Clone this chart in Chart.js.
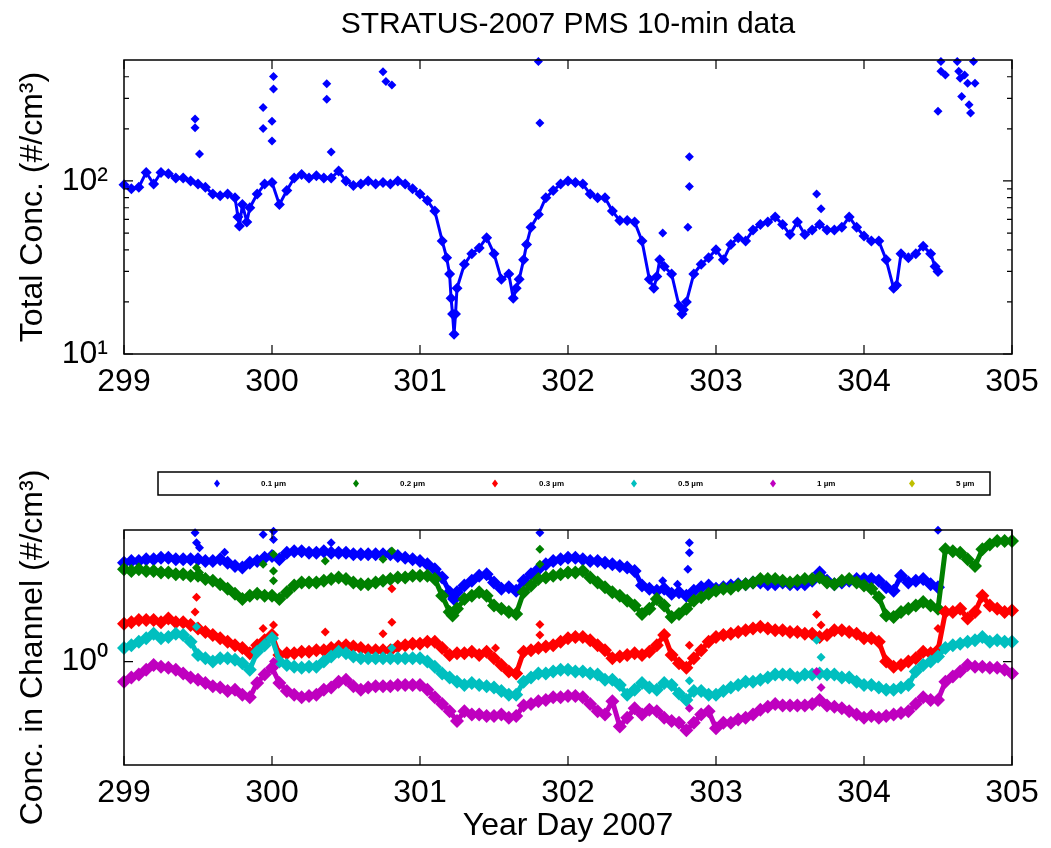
<!DOCTYPE html>
<html lang="en">
<head>
    <meta charset="UTF-8">
    <title>STRATUS-2007 PMS 10-min data</title>
    <style>
        body { margin: 0; background: #fff; }
        #top, #bottom { position: absolute; left: 0; }
        #top { top: 0; }
        #bottom { top: 420px; }
    </style>
</head>
<body>

    <canvas id="top" width="1051" height="420"></canvas>
    <canvas id="bottom" width="1051" height="428"></canvas>
    <script src="https://cdn.jsdelivr.net/npm/chart.js@4.4.1/dist/chart.umd.min.js"></script>
    <script>

        // ---- data: [year day, concentration] ----
        const dayTicks = [299, 300, 301, 302, 303, 304, 305];

        const totalTickValues = [10, 100];
        const totalTickLabels = ['10¹', '10²'];
        const totalMinorTicks = [20, 30, 40, 50, 60, 70, 80, 90, 200, 300, 400];

        const chanTickValues = [1];
        const chanTickLabels = ['10⁰'];

        const totalConc = [
            [299.00,95],[299.05,90],[299.10,92],[299.15,112],[299.20,96],[299.25,112],[299.30,110],[299.35,104],
            [299.40,104],[299.45,100],[299.50,96],[299.55,92],[299.60,84],[299.65,82],[299.70,84],[299.75,80],
            [299.77,62],[299.78,55],[299.80,73],[299.83,58],[299.85,70],[299.90,84],[299.95,96],[300.00,98],
            [300.05,73],[300.10,88],[300.15,104],[300.20,109],[300.25,104],[300.30,107],[300.35,104],[300.40,104],
            [300.45,114],[300.50,100],[300.55,94],[300.60,96],[300.65,100],[300.70,96],[300.75,98],[300.80,96],
            [300.85,100],[300.90,96],[300.95,90],[301.00,84],[301.05,77],[301.10,67],[301.15,45],[301.18,36],
            [301.20,29],[301.21,21],[301.22,17],[301.23,13],[301.24,17],[301.25,24],[301.30,33],[301.35,38],
            [301.40,41],[301.45,47],[301.50,38],[301.55,27],[301.60,29],[301.63,21],[301.65,24],[301.67,27],
            [301.70,35],[301.72,43],[301.75,54],[301.80,64],[301.85,80],[301.90,88],[301.95,96],[302.00,100],
            [302.05,98],[302.10,96],[302.15,84],[302.20,80],[302.25,80],[302.30,67],[302.35,59],[302.40,59],
            [302.45,58],[302.50,45],[302.55,27],[302.58,24],[302.60,28],[302.62,35],[302.65,32],[302.70,29],
            [302.75,19],[302.77,17],[302.78,18],[302.80,20],[302.85,29],[302.90,33],[302.95,36],[303.00,40],
            [303.05,35],[303.10,43],[303.15,47],[303.20,45],[303.25,52],[303.30,56],[303.35,58],[303.40,62],
            [303.45,56],[303.50,49],[303.55,58],[303.60,49],[303.65,52],[303.70,56],[303.75,52],[303.80,52],
            [303.85,54],[303.90,62],[303.95,54],[304.00,48],[304.05,45],[304.10,45],[304.15,35],[304.20,24],
            [304.22,25],[304.25,38],[304.30,36],[304.35,38],[304.40,42],[304.45,38],[304.48,32],[304.50,30]
        ];

        const totalSpikes = [
            [299.48,228],[299.48,203],[299.51,143],[299.94,266],[299.94,201],[300.01,401],[300.01,340],
            [300.00,221],[300.00,170],[300.37,364],[300.37,297],[300.40,147],[300.75,428],[300.77,376],
            [300.81,359],[301.80,490],[301.81,216],[302.82,138],[302.82,93],[302.81,54],[302.64,50],
            [303.68,84],[303.71,69],[304.50,253],[304.52,490],[304.52,430],[304.55,410],[304.63,490],
            [304.64,430],[304.65,392],[304.66,308],[304.68,410],[304.70,367],[304.71,276],[304.72,247],
            [304.74,490],[304.75,367]
        ];

        const chan01 = [
            [299.00,3.16],[299.05,3.22],[299.10,3.22],[299.15,3.29],[299.20,3.29],[299.25,3.35],[299.30,3.35],
            [299.35,3.29],[299.40,3.29],[299.45,3.29],[299.50,3.29],[299.55,3.22],[299.60,3.22],[299.65,3.29],
            [299.70,3.16],[299.75,3.04],[299.80,2.99],[299.85,3.16],[299.90,3.22],[299.95,3.35],[300.00,3.41],
            [300.05,3.29],[300.10,3.55],[300.15,3.61],[300.20,3.61],[300.25,3.55],[300.30,3.55],[300.35,3.61],
            [300.40,3.55],[300.45,3.55],[300.50,3.55],[300.55,3.48],[300.60,3.48],[300.65,3.48],[300.70,3.48],
            [300.75,3.48],[300.80,3.48],[300.85,3.41],[300.90,3.35],[300.95,3.29],[301.00,3.22],[301.05,3.10],
            [301.10,2.93],[301.15,2.66],[301.20,2.24],[301.23,2.07],[301.25,2.24],[301.30,2.42],[301.35,2.56],
            [301.40,2.71],[301.45,2.76],[301.50,2.51],[301.55,2.33],[301.60,2.37],[301.65,2.28],[301.70,2.56],
            [301.75,2.76],[301.80,2.93],[301.85,3.10],[301.90,3.22],[301.95,3.29],[302.00,3.35],[302.05,3.35],
            [302.10,3.29],[302.15,3.22],[302.20,3.22],[302.25,3.16],[302.30,3.10],[302.35,3.04],[302.40,2.99],
            [302.45,2.87],[302.50,2.42],[302.55,2.33],[302.60,2.28],[302.65,2.33],[302.70,2.20],[302.75,2.24],
            [302.80,2.15],[302.85,2.28],[302.90,2.37],[302.95,2.42],[303.00,2.33],[303.05,2.37],[303.10,2.42],
            [303.15,2.46],[303.20,2.46],[303.25,2.51],[303.30,2.51],[303.35,2.46],[303.40,2.46],[303.45,2.51],
            [303.50,2.46],[303.55,2.46],[303.60,2.46],[303.65,2.56],[303.70,2.82],[303.75,2.56],[303.80,2.46],
            [303.85,2.51],[303.90,2.56],[303.95,2.61],[304.00,2.61],[304.05,2.61],[304.10,2.56],[304.15,2.37],
            [304.20,2.28],[304.25,2.71],[304.30,2.51],[304.35,2.56],[304.40,2.61],[304.45,2.46],[304.50,2.37]
        ];
        const chan01Spikes = [
            [299.48,4.47],[299.49,3.98],[299.51,3.76],[299.68,3.57],[299.94,4.39],[300.01,4.55],[300.01,4.14],
            [300.40,3.98],[301.81,4.47],[302.82,3.98],[302.82,3.55],[302.81,2.93],[302.64,2.56],[302.74,2.46],
            [304.50,4.6]
        ];

        const chan02 = [
            [299.00,2.93],[299.05,2.87],[299.10,2.93],[299.15,2.87],[299.20,2.87],[299.25,2.82],[299.30,2.82],
            [299.35,2.76],[299.40,2.76],[299.45,2.71],[299.50,2.71],[299.55,2.61],[299.60,2.56],[299.65,2.46],
            [299.70,2.33],[299.75,2.20],[299.80,2.07],[299.85,2.15],[299.90,2.20],[299.95,2.15],[300.00,2.15],
            [300.05,2.07],[300.10,2.24],[300.15,2.42],[300.20,2.51],[300.25,2.51],[300.30,2.51],[300.35,2.56],
            [300.40,2.61],[300.45,2.66],[300.50,2.61],[300.55,2.51],[300.60,2.46],[300.65,2.46],[300.70,2.51],
            [300.75,2.56],[300.80,2.61],[300.85,2.66],[300.90,2.66],[300.95,2.71],[301.00,2.71],[301.05,2.71],
            [301.10,2.61],[301.15,2.15],[301.20,1.78],[301.22,1.71],[301.25,1.85],[301.30,2.07],[301.35,2.15],
            [301.40,2.24],[301.45,2.15],[301.50,1.92],[301.55,1.85],[301.60,1.78],[301.65,1.74],[301.70,2.24],
            [301.75,2.42],[301.80,2.61],[301.85,2.66],[301.90,2.71],[301.95,2.76],[302.00,2.82],[302.05,2.82],
            [302.10,2.87],[302.15,2.66],[302.20,2.51],[302.25,2.37],[302.30,2.24],[302.35,2.15],[302.40,2.03],
            [302.45,1.92],[302.50,1.74],[302.55,1.85],[302.60,2.07],[302.65,1.92],[302.70,1.68],[302.75,1.74],
            [302.80,1.85],[302.85,2.03],[302.90,2.11],[302.95,2.20],[303.00,2.28],[303.05,2.33],[303.10,2.33],
            [303.15,2.42],[303.20,2.46],[303.25,2.51],[303.30,2.61],[303.35,2.61],[303.40,2.61],[303.45,2.56],
            [303.50,2.51],[303.55,2.56],[303.60,2.61],[303.65,2.61],[303.70,2.66],[303.75,2.51],[303.80,2.46],
            [303.85,2.56],[303.90,2.61],[303.95,2.51],[304.00,2.42],[304.05,2.33],[304.10,2.11],[304.15,1.71],
            [304.20,1.68],[304.25,1.78],[304.30,1.85],[304.35,1.92],[304.40,2.00],[304.45,1.92],[304.50,1.85],
            [304.55,3.69],[304.60,3.61],[304.65,3.55],[304.70,3.29],[304.75,3.04],[304.80,3.69],[304.85,3.90],
            [304.90,4.06],[304.95,4.06],[305.00,4.06]
        ];
        const chan02Spikes = [
            [299.49,2.98],[299.51,2.82],[299.94,3.10],[300.01,3.48],[300.01,2.87],[300.01,2.56],[300.36,3.22],
            [300.75,3.29],[300.81,3.62],[301.81,3.69],[301.81,3.10]
        ];

        const chan03 = [
            [299.00,1.55],[299.05,1.58],[299.10,1.62],[299.15,1.62],[299.20,1.62],[299.25,1.58],[299.30,1.65],
            [299.35,1.58],[299.40,1.58],[299.45,1.53],[299.50,1.47],[299.55,1.41],[299.60,1.36],[299.65,1.31],
            [299.70,1.26],[299.75,1.21],[299.80,1.17],[299.85,1.10],[299.90,1.21],[299.95,1.28],[300.00,1.36],
            [300.05,1.08],[300.10,1.10],[300.15,1.10],[300.20,1.12],[300.25,1.12],[300.30,1.14],[300.35,1.14],
            [300.40,1.17],[300.45,1.19],[300.50,1.21],[300.55,1.19],[300.60,1.17],[300.65,1.14],[300.70,1.14],
            [300.75,1.14],[300.80,1.14],[300.85,1.19],[300.90,1.21],[300.95,1.23],[301.00,1.23],[301.05,1.26],
            [301.10,1.26],[301.15,1.17],[301.20,1.08],[301.25,1.10],[301.30,1.10],[301.35,1.12],[301.40,1.08],
            [301.45,1.12],[301.50,1.04],[301.55,0.96],[301.60,0.89],[301.65,0.87],[301.70,1.12],[301.75,1.14],
            [301.80,1.17],[301.85,1.19],[301.90,1.21],[301.95,1.26],[302.00,1.31],[302.05,1.33],[302.10,1.33],
            [302.15,1.28],[302.20,1.21],[302.25,1.14],[302.30,1.04],[302.35,1.06],[302.40,1.08],[302.45,1.10],
            [302.50,1.08],[302.55,1.12],[302.60,1.21],[302.65,1.36],[302.70,1.08],[302.75,0.98],[302.80,0.93],
            [302.85,1.04],[302.90,1.14],[302.95,1.26],[303.00,1.33],[303.05,1.36],[303.10,1.38],[303.15,1.41],
            [303.20,1.44],[303.25,1.47],[303.30,1.50],[303.35,1.47],[303.40,1.44],[303.45,1.44],[303.50,1.41],
            [303.55,1.41],[303.60,1.38],[303.65,1.38],[303.70,1.33],[303.75,1.36],[303.80,1.44],[303.85,1.44],
            [303.90,1.41],[303.95,1.38],[304.00,1.31],[304.05,1.31],[304.10,1.26],[304.15,1.00],[304.20,0.94],
            [304.25,0.96],[304.30,1.00],[304.35,1.04],[304.40,1.12],[304.45,1.10],[304.50,1.14],[304.55,1.78],
            [304.60,1.78],[304.65,1.85],[304.70,1.65],[304.75,1.78],[304.80,2.15],[304.85,1.92],[304.90,1.85],
            [304.95,1.78],[305.00,1.81]
        ];
        const chan03Spikes = [
            [299.49,2.11],[299.48,1.78],[299.94,1.47],[300.01,1.53],[300.36,1.41],[300.75,1.38],[300.81,2.33],
            [300.81,1.58],[301.51,1.17],[301.81,1.54],[301.81,1.36],[303.68,1.73],[303.71,1.53],[302.82,1.21],
            [304.50,1.47]
        ];

        const chan05 = [
            [299.00,1.17],[299.05,1.21],[299.10,1.26],[299.15,1.31],[299.20,1.38],[299.25,1.31],[299.30,1.33],
            [299.35,1.38],[299.40,1.36],[299.45,1.26],[299.50,1.08],[299.55,1.04],[299.60,1.00],[299.65,1.04],
            [299.70,1.04],[299.75,1.02],[299.80,0.98],[299.85,0.91],[299.90,1.12],[299.95,1.21],[300.00,1.31],
            [300.05,1.00],[300.10,0.96],[300.15,0.94],[300.20,0.93],[300.25,0.94],[300.30,0.94],[300.35,1.00],
            [300.40,1.06],[300.45,1.12],[300.50,1.10],[300.55,1.06],[300.60,1.04],[300.65,1.04],[300.70,1.04],
            [300.75,1.04],[300.80,1.04],[300.85,1.04],[300.90,1.04],[300.95,1.04],[301.00,1.04],[301.05,1.00],
            [301.10,0.94],[301.15,0.87],[301.20,0.83],[301.25,0.79],[301.30,0.76],[301.35,0.78],[301.40,0.76],
            [301.45,0.75],[301.50,0.74],[301.55,0.71],[301.60,0.68],[301.65,0.68],[301.70,0.79],[301.75,0.83],
            [301.80,0.87],[301.85,0.87],[301.90,0.89],[301.95,0.91],[302.00,0.91],[302.05,0.89],[302.10,0.89],
            [302.15,0.87],[302.20,0.86],[302.25,0.81],[302.30,0.81],[302.35,0.76],[302.40,0.68],[302.45,0.72],
            [302.50,0.78],[302.55,0.74],[302.60,0.72],[302.65,0.78],[302.70,0.76],[302.75,0.69],[302.80,0.64],
            [302.85,0.71],[302.90,0.71],[302.95,0.68],[303.00,0.68],[303.05,0.71],[303.10,0.74],[303.15,0.76],
            [303.20,0.79],[303.25,0.79],[303.30,0.81],[303.35,0.83],[303.40,0.86],[303.45,0.86],[303.50,0.86],
            [303.55,0.83],[303.60,0.86],[303.65,0.86],[303.70,0.87],[303.75,0.86],[303.80,0.86],[303.85,0.83],
            [303.90,0.83],[303.95,0.79],[304.00,0.76],[304.05,0.76],[304.10,0.74],[304.15,0.72],[304.20,0.72],
            [304.25,0.74],[304.30,0.76],[304.35,0.89],[304.40,0.96],[304.45,1.00],[304.50,1.06],[304.55,1.17],
            [304.60,1.21],[304.65,1.23],[304.70,1.26],[304.75,1.28],[304.80,1.33],[304.85,1.26],[304.90,1.28],
            [304.95,1.26],[305.00,1.26]
        ];
        const chan05Spikes = [
            [299.49,1.50],[300.81,1.17],[303.68,1.28],[303.71,1.05],[302.82,0.80]
        ];

        const chan1 = [
            [299.00,0.79],[299.05,0.83],[299.10,0.86],[299.15,0.91],[299.20,0.96],[299.25,0.94],[299.30,0.93],
            [299.35,0.91],[299.40,0.87],[299.45,0.83],[299.50,0.81],[299.55,0.78],[299.60,0.75],[299.65,0.74],
            [299.70,0.71],[299.75,0.72],[299.80,0.68],[299.85,0.66],[299.90,0.78],[299.95,0.86],[300.00,0.93],
            [300.05,0.78],[300.10,0.71],[300.15,0.68],[300.20,0.66],[300.25,0.67],[300.30,0.68],[300.35,0.72],
            [300.40,0.74],[300.45,0.79],[300.50,0.81],[300.55,0.75],[300.60,0.72],[300.65,0.74],[300.70,0.75],
            [300.75,0.75],[300.80,0.75],[300.85,0.76],[300.90,0.76],[300.95,0.76],[301.00,0.76],[301.05,0.72],
            [301.10,0.66],[301.15,0.61],[301.20,0.56],[301.25,0.50],[301.30,0.56],[301.35,0.54],[301.40,0.54],
            [301.45,0.53],[301.50,0.53],[301.55,0.54],[301.60,0.52],[301.65,0.53],[301.70,0.60],[301.75,0.61],
            [301.80,0.63],[301.85,0.64],[301.90,0.66],[301.95,0.66],[302.00,0.67],[302.05,0.67],[302.10,0.66],
            [302.15,0.61],[302.20,0.56],[302.25,0.54],[302.30,0.63],[302.35,0.47],[302.40,0.52],[302.45,0.58],
            [302.50,0.54],[302.55,0.57],[302.60,0.56],[302.65,0.52],[302.70,0.50],[302.75,0.49],[302.80,0.45],
            [302.85,0.49],[302.90,0.54],[302.95,0.56],[303.00,0.46],[303.05,0.49],[303.10,0.49],[303.15,0.51],
            [303.20,0.52],[303.25,0.54],[303.30,0.57],[303.35,0.59],[303.40,0.61],[303.45,0.60],[303.50,0.60],
            [303.55,0.60],[303.60,0.60],[303.65,0.61],[303.70,0.64],[303.75,0.60],[303.80,0.59],[303.85,0.58],
            [303.90,0.56],[303.95,0.54],[304.00,0.52],[304.05,0.53],[304.10,0.52],[304.15,0.53],[304.20,0.54],
            [304.25,0.55],[304.30,0.56],[304.35,0.61],[304.40,0.66],[304.45,0.64],[304.50,0.64],[304.55,0.79],
            [304.60,0.84],[304.65,0.89],[304.70,0.96],[304.75,0.94],[304.80,0.94],[304.85,0.93],[304.90,0.93],
            [304.95,0.91],[305.00,0.87]
        ];
        const chan1Spikes = [
            [300.01,1.00],[303.68,0.89],[303.71,0.74],[302.82,0.58]
        ];

        const chan5 = [];
        const chan5Spikes = [];

        const chanLabels = ['0.1 µm', '0.2 µm', '0.3 µm', '0.5 µm', '1 µm', '5 µm'];
        const chanColors = ['#0000ff', '#008000', '#ff0000', '#00bfbf', '#bf00bf', '#bfbf00'];
        const chanTraces = [chan01, chan02, chan03, chan05, chan1, chan5];
        const chanSpikes = [chan01Spikes, chan02Spikes, chan03Spikes, chan05Spikes, chan1Spikes, chan5Spikes];

        // ---- helpers ----
        const FONT = 'Liberation Sans, Arial, Helvetica, sans-serif';
        const toPts = arr => arr.map(p => ({x: p[0], y: p[1]}));

        // the 10-min samples are so dense they read as a band: a line under big diamonds
        function traceSet(label, color, arr, order, r, w) {
            return {
                label: label,
                data: toPts(arr),
                showLine: true,
                borderWidth: w,
                borderJoinStyle: 'round',
                borderColor: color,
                backgroundColor: color,
                pointStyle: 'rectRot',
                pointRadius: r,
                pointBorderWidth: 0,
                clip: false,
                order: order
            };
        }

        function spikeSet(label, color, arr, order) {
            return {
                label: label,
                data: toPts(arr),
                showLine: false,
                borderColor: color,
                backgroundColor: color,
                pointStyle: 'rectRot',
                pointRadius: 4.5,
                pointBorderWidth: 0,
                clip: false,
                order: order
            };
        }

        // box round the axes plus inward tick marks, like the original figure
        const frameTicks = {
            id: 'frameTicks',
            afterDatasetsDraw(chart, args, opts) {
                const {ctx, chartArea: a, scales: {x, y}} = chart;
                ctx.save();
                ctx.strokeStyle = '#000';
                ctx.lineWidth = 1.5;
                ctx.strokeRect(a.left, a.top, a.width, a.height);
                ctx.lineWidth = 1.2;
                ctx.beginPath();
                x.ticks.forEach(t => {
                    const px = x.getPixelForValue(t.value);
                    ctx.moveTo(px, a.bottom); ctx.lineTo(px, a.bottom - 9);
                    ctx.moveTo(px, a.top); ctx.lineTo(px, a.top + 9);
                });
                y.ticks.forEach(t => {
                    const py = y.getPixelForValue(t.value);
                    ctx.moveTo(a.left, py); ctx.lineTo(a.left + 9, py);
                    ctx.moveTo(a.right, py); ctx.lineTo(a.right - 9, py);
                });
                (opts.minor || []).forEach(v => {
                    const py = y.getPixelForValue(v);
                    ctx.moveTo(a.left, py); ctx.lineTo(a.left + 5, py);
                    ctx.moveTo(a.right, py); ctx.lineTo(a.right - 5, py);
                });
                ctx.stroke();
                ctx.restore();
            }
        };

        // legend in a thin box above the lower axes
        const boxLegend = {
            id: 'boxLegend',
            afterDraw(chart) {
                const {ctx, chartArea: a} = chart;
                const left = a.left + 34, right = a.right - 22, top = 52, bottom = 75;
                const mid = (top + bottom) / 2;
                ctx.save();
                ctx.strokeStyle = '#000';
                ctx.lineWidth = 1.5;
                ctx.strokeRect(left, top, right - left, bottom - top);
                ctx.font = 'bold 8px ' + FONT;
                ctx.textBaseline = 'middle';
                chanLabels.forEach((label, i) => {
                    const mx = left + 59 + i * 139;
                    ctx.fillStyle = chanColors[i];
                    ctx.beginPath();
                    ctx.moveTo(mx, mid - 4); ctx.lineTo(mx + 3, mid);
                    ctx.lineTo(mx, mid + 4); ctx.lineTo(mx - 3, mid);
                    ctx.closePath();
                    ctx.fill();
                    ctx.fillStyle = '#000';
                    ctx.fillText(label, mx + 44, mid);
                });
                ctx.restore();
            }
        };

        function xAxis(height, title) {
            return {
                type: 'linear',
                min: 299,
                max: 305,
                afterBuildTicks: s => { s.ticks = dayTicks.map(v => ({value: v})); },
                afterFit: s => { s.height = height; },
                ticks: {
                    autoSkip: false, maxRotation: 0, color: '#000', padding: 9,
                    font: {family: FONT, size: 32},
                    callback: v => String(v)
                },
                grid: {display: false, drawTicks: false},
                border: {display: false},
                title: title ? {
                    display: true, text: title, color: '#000',
                    font: {family: FONT, size: 32},
                    padding: {top: 0, bottom: 3}
                } : {display: false}
            };
        }

        function yAxis(min, max, values, labels, title) {
            return {
                type: 'logarithmic',
                min: min,
                max: max,
                afterBuildTicks: s => { s.ticks = values.map(v => ({value: v})); },
                afterFit: s => { s.width = 124; },
                ticks: {
                    color: '#000', padding: 16,
                    font: {family: FONT, size: 32},
                    callback: v => labels[values.indexOf(v)]
                },
                grid: {display: false, drawTicks: false},
                border: {display: false},
                title: {
                    display: true, text: title, color: '#000',
                    font: {family: FONT, size: 32},
                    padding: {top: 14, bottom: 0}
                }
            };
        }

        // ---- upper panel: total concentration ----
        new Chart(document.getElementById('top').getContext('2d'), {
            type: 'scatter',
            data: {
                datasets: [
                    traceSet('Total', '#0000ff', totalConc, 1, 5.5, 3),
                    spikeSet('Total spikes', '#0000ff', totalSpikes, 0)
                ]
            },
            options: {
                responsive: false,
                animation: false,
                layout: {padding: {left: 0, right: 39, top: 0, bottom: 0}},
                scales: {
                    x: xAxis(66, null),
                    y: yAxis(10, 500, totalTickValues, totalTickLabels, 'Total Conc. (#/cm³)')
                },
                plugins: {
                    legend: {display: false},
                    tooltip: {enabled: false},
                    title: {
                        display: true,
                        fullSize: false,
                        text: 'STRATUS-2007 PMS 10-min data',
                        color: '#000',
                        font: {family: FONT, size: 30, weight: 'normal'},
                        padding: {top: 7, bottom: 17}
                    },
                    frameTicks: {minor: totalMinorTicks}
                }
            },
            plugins: [frameTicks]
        });

        // ---- lower panel: concentration per size channel ----
        // later channels sit on top, as in the original plotting order
        const chanSets = [];
        chanTraces.forEach((s, i) => {
            chanSets.push(traceSet(chanLabels[i], chanColors[i], s, -2 * i, 7, 5));
            chanSets.push(spikeSet(chanLabels[i], chanColors[i], chanSpikes[i], -2 * i - 1));
        });

        new Chart(document.getElementById('bottom').getContext('2d'), {
            type: 'scatter',
            data: {datasets: chanSets},
            options: {
                responsive: false,
                animation: false,
                layout: {padding: {left: 0, right: 39, top: 110, bottom: 0}},
                scales: {
                    x: xAxis(83, 'Year Day 2007'),
                    y: yAxis(0.309, 4.62, chanTickValues, chanTickLabels, 'Conc. in Channel (#/cm³)')
                },
                plugins: {
                    legend: {display: false},
                    tooltip: {enabled: false},
                    frameTicks: {}
                }
            },
            plugins: [frameTicks, boxLegend]
        });
    </script>
</body>
</html>
